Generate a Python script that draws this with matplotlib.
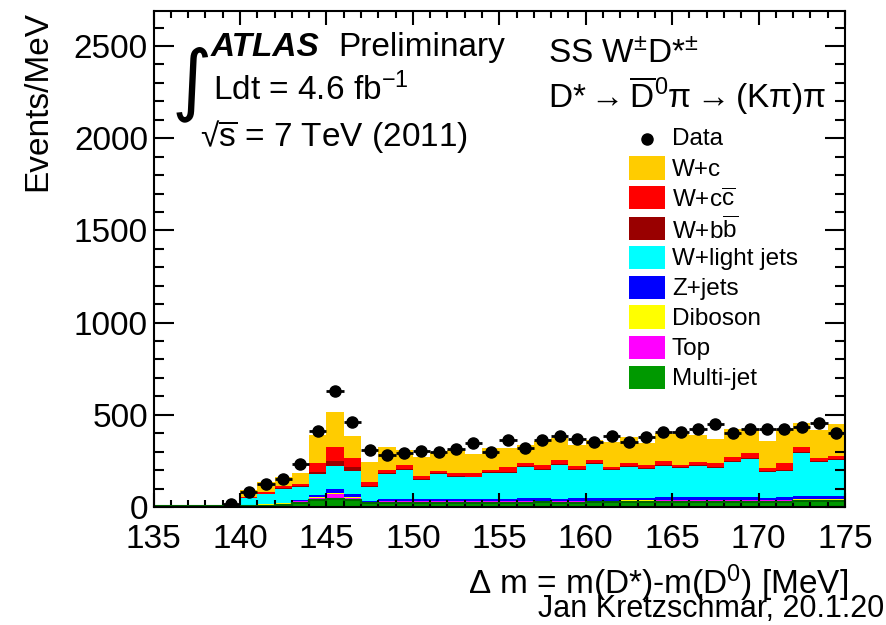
import numpy as np
import matplotlib
matplotlib.use("Agg")
import matplotlib.pyplot as plt
from matplotlib.patches import Rectangle

plt.rcParams["font.family"] = ["Liberation Sans", "DejaVu Sans"]
plt.rcParams["mathtext.fontset"] = "custom"
plt.rcParams["mathtext.rm"] = "Liberation Sans"
plt.rcParams["mathtext.it"] = "Liberation Sans:italic"
plt.rcParams["mathtext.bf"] = "Liberation Sans:bold"

# Delta m bins, 1 MeV wide, 135 .. 175 MeV
bin_edges = np.arange(135, 176, 1)

data = [0, 0, 0, 0, 15, 80, 126, 153, 231, 412, 630, 459, 307, 282, 291,
        305, 296, 314, 349, 300, 363, 318, 363, 385, 367, 351, 385, 354,
        378, 408, 408, 421, 450, 399, 421, 423, 423, 432, 457, 399]

multijet = [3, 3, 3, 3, 3, 5, 7, 9, 19, 36, 45, 36, 20, 22, 23, 22, 23, 23,
            22, 23, 24, 24, 25, 24, 24, 25, 25, 26, 26, 27, 27, 28, 28, 28,
            29, 28, 29, 30, 30, 30]
top = [0, 0, 0, 0, 0, 5, 6, 9, 11, 15, 27, 15, 8, 8, 8, 8, 8, 8, 8, 9, 8, 9,
       9, 9, 8, 8, 9, 9, 9, 9, 9, 9, 9, 9, 9, 8, 9, 10, 10, 10]
diboson = [0, 0, 0, 0, 0, 1, 1, 1, 1, 1, 2, 1, 1, 1, 1, 1, 1, 1, 1, 1, 1, 1,
           1, 1, 1, 1, 1, 1, 1, 1, 1, 1, 1, 1, 1, 1, 1, 1, 1, 1]
zjets = [0, 0, 0, 0, 0, 2, 4, 4, 5, 15, 25, 18, 5, 11, 13, 11, 11, 12, 12, 11,
         13, 13, 13, 12, 14, 14, 14, 14, 14, 15, 15, 15, 16, 16, 16, 11, 16,
         17, 19, 19]
wlight = [0, 0, 0, 0, 0, 34, 51, 75, 71, 112, 125, 127, 76, 137, 155, 104,
          136, 120, 118, 142, 140, 171, 152, 182, 153, 185, 151, 168, 156,
          172, 159, 171, 159, 192, 205, 143, 142, 233, 182, 195]
wbb = [0, 0, 0, 0, 0, 3, 3, 6, 6, 12, 25, 21, 5, 5, 5, 4, 4, 4, 4, 4, 6, 4,
       5, 4, 5, 5, 4, 4, 4, 4, 4, 4, 5, 5, 5, 5, 6, 5, 5, 5]
wcc = [0, 0, 0, 0, 0, 5, 11, 10, 12, 47, 76, 46, 22, 16, 23, 18, 14, 15, 18,
       10, 23, 15, 23, 23, 17, 17, 13, 18, 18, 21, 14, 18, 22, 22, 26, 17, 34,
       29, 20, 16]
wc = [0, 0, 0, 0, 0, 35, 51, 47, 58, 152, 192, 121, 107, 125, 81, 105, 103,
      126, 104, 118, 107, 99, 131, 117, 114, 108, 137, 138, 117, 154, 169,
      144, 127, 150, 132, 146, 186, 129, 150, 174]

# stacking order from bottom to top
components = [
    ("Multi-jet", multijet, "#009900"),
    ("Top", top, "#ff00ff"),
    ("Diboson", diboson, "#ffff00"),
    ("Z+jets", zjets, "#0000ff"),
    ("W+light jets", wlight, "#00ffff"),
    (r"W+b$\overline{\mathrm{b}}$", wbb, "#990000"),
    (r"W+c$\overline{\mathrm{c}}$", wcc, "#ff0000"),
    ("W+c", wc, "#ffcc00"),
]

W, H = 886, 625
fig = plt.figure(figsize=(W / 100, H / 100), dpi=100)
ax = fig.add_axes([153.5 / W, 1 - 507 / H, (845 - 153.5) / W, (507 - 11) / H])

left = bin_edges[:-1]
bottom = np.zeros(len(left))
for name, vals, col in components:
    v = np.asarray(vals, dtype=float)
    ax.bar(left, v, width=1.0, bottom=bottom, align="edge", color=col,
           linewidth=0, zorder=1)
    bottom = bottom + v
# outline of the multi-jet histogram along the baseline
ax.stairs(multijet, bin_edges, color="#006600", linewidth=1.5, zorder=2)

d = np.asarray(data, dtype=float)
centers = left + 0.5
m = d > 0
ax.errorbar(centers[m], d[m], xerr=0.5, yerr=np.sqrt(d[m]), fmt="o",
            color="black", markersize=8, elinewidth=2, capsize=0, zorder=5)

ax.set_xlim(135, 175)
ax.set_ylim(0, 2690)
ax.set_xticks(np.arange(135, 176, 5))
ax.set_xticks(np.arange(135, 176, 1), minor=True)
ax.set_yticks(np.arange(0, 2501, 500))
ax.set_yticks(np.arange(0, 2690, 100), minor=True)
ax.tick_params(axis="both", which="both", direction="in", top=True,
               right=True, width=1.5, labelsize=24)
ax.tick_params(axis="x", which="major", length=10, pad=12)
ax.tick_params(axis="x", which="minor", length=5)
ax.tick_params(axis="y", which="major", length=14.5, pad=4)
ax.tick_params(axis="y", which="minor", length=7.5)
for s in ax.spines.values():
    s.set_linewidth(1.5)
    s.set_zorder(10)


def fx(px):
    return px / W


def fy(py):
    return 1 - py / H


fig.text(fx(38), fy(11), "Events/MeV", rotation=90, ha="center", va="top",
         fontsize=24)
fig.text(fx(848), fy(583), r"$\Delta$ m = m(D*)-m(D$^{0}$) [MeV]",
         ha="right", va="center", fontsize=24)
fig.text(fx(538), fy(609), "Jan Kretzschmar, 20.1.2012", ha="left",
         va="center", fontsize=22)

# experiment label
fig.text(fx(172), fy(84), "\u222b", family="DejaVu Sans", fontsize=56,
         ha="left", va="center")
fig.text(fx(211), fy(56), "ATLAS", fontsize=24, fontweight="bold",
         fontstyle="italic", ha="left", va="baseline")
fig.text(fx(338), fy(56), "Preliminary", fontsize=24, ha="left",
         va="baseline")
fig.text(fx(213), fy(100), r"Ldt = 4.6 fb$^{\mathregular{-1}}$", fontsize=24,
         ha="left", va="baseline")
fig.text(fx(200), fy(147), "\u221a$\\overline{\\mathrm{s}}$ = 7 TeV (2011)",
         fontsize=24, ha="left", va="baseline")

fig.text(fx(548), fy(63), r"SS W$^{\pm}$D*$^{\pm}$", fontsize=24,
         ha="left", va="baseline")
fig.text(fx(548), fy(108),
         "D*$\\rightarrow\\overline{\\mathrm{D}}^{0}$\u03c0$\\rightarrow$(K\u03c0)\u03c0",
         fontsize=24, ha="left", va="baseline")

# legend
fig.add_artist(plt.Line2D([fx(647)], [fy(139)], marker="o", color="black",
                          markersize=8, transform=fig.transFigure))
fig.text(fx(672), fy(139), "Data", fontsize=17.5, ha="left", va="center")
row_y = [168, 198, 228, 257, 287, 317, 347, 377]
for (name, vals, col), yy in zip(components[::-1], row_y):
    fig.add_artist(Rectangle((fx(629), fy(yy + 11.5)), fx(36), 23 / H,
                             facecolor=col, edgecolor="none",
                             transform=fig.transFigure))
    fig.text(fx(672), fy(yy + 2), name, fontsize=17.5, ha="left",
             va="center")

fig.savefig("out.png", dpi=100)
